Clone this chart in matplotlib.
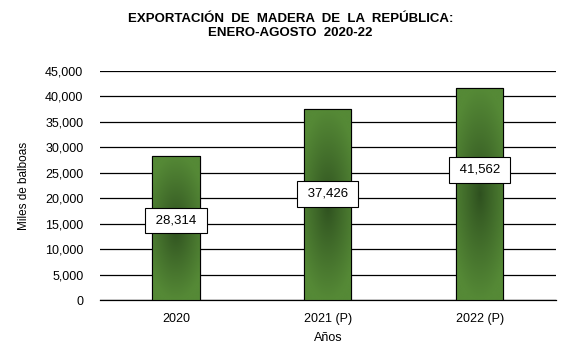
import numpy as np
import matplotlib.pyplot as plt
from matplotlib.ticker import FuncFormatter

plt.rcParams['font.family'] = ['Liberation Sans', 'DejaVu Sans']

# Data
years = ['2020', '2021 (P)', '2022 (P)']
values = [28314, 37426, 41562]
# where the value boxes sit, as a share of each bar's height
label_frac = [0.55, 0.557, 0.615]

fig = plt.figure(figsize=(5.62, 3.51), dpi=100)
ax = fig.add_axes([0.178, 0.145, 0.811, 0.653])

x = np.arange(len(years))
bars = ax.bar(x, values, width=0.31, color='#4a7f2a', edgecolor='black', linewidth=0.8, zorder=3)

# soft gradient inside each bar, dark in the middle
yy, xx = np.mgrid[-1:1:200j, -1:1:100j]
r = np.sqrt((xx * 0.75) ** 2 + (yy * 1.0) ** 2)
r = np.clip(r, 0, 1) ** 0.9
light = np.array([0x55, 0x89, 0x36]) / 255
dark = np.array([0x2e, 0x50, 0x1f]) / 255
img = dark[None, None, :] * (1 - r[..., None]) + light[None, None, :] * r[..., None]
for b in bars:
    x0, w, h = b.get_x(), b.get_width(), b.get_height()
    im = ax.imshow(img, extent=(x0, x0 + w, 0, h), aspect='auto', zorder=3.5, origin='lower')
    im.set_clip_path(b)
    ax.add_patch(plt.Rectangle((x0, 0), w, h, fill=False, edgecolor='black', linewidth=0.8, zorder=4))

for i, v in enumerate(values):
    ax.text(x[i], v * label_frac[i], f' {v:,} ', ha='center', va='center', fontsize=9.5, zorder=5,
            bbox=dict(boxstyle='square,pad=0.5', fc='white', ec='black', lw=0.8))

ax.set_xlim(-0.5, 2.5)
ax.set_ylim(0, 45000)
ax.set_yticks(np.arange(0, 45001, 5000))
ax.yaxis.set_major_formatter(FuncFormatter(lambda v, p: f'{int(v):,}'))
ax.set_xticks(x)
ax.set_xticklabels(years)
ax.grid(axis='y', color='black', linewidth=0.9, zorder=0)
for s in ['top', 'right', 'left']:
    ax.spines[s].set_visible(False)
ax.spines['bottom'].set_linewidth(0.9)
ax.tick_params(axis='y', length=0, pad=12, labelsize=9)
ax.tick_params(axis='x', length=0, pad=9, labelsize=9)

ax.set_ylabel('Miles de balboas', fontsize=8.5, labelpad=11)
ax.set_xlabel('Años', fontsize=9, labelpad=5)
fig.text(0.517, 0.925, 'EXPORTACIÓN  DE  MADERA  DE  LA  REPÚBLICA:\nENERO-AGOSTO  2020-22',
         ha='center', va='center', fontsize=9.5, fontweight='bold', linespacing=1.25)

fig.savefig('out.png', dpi=100)
